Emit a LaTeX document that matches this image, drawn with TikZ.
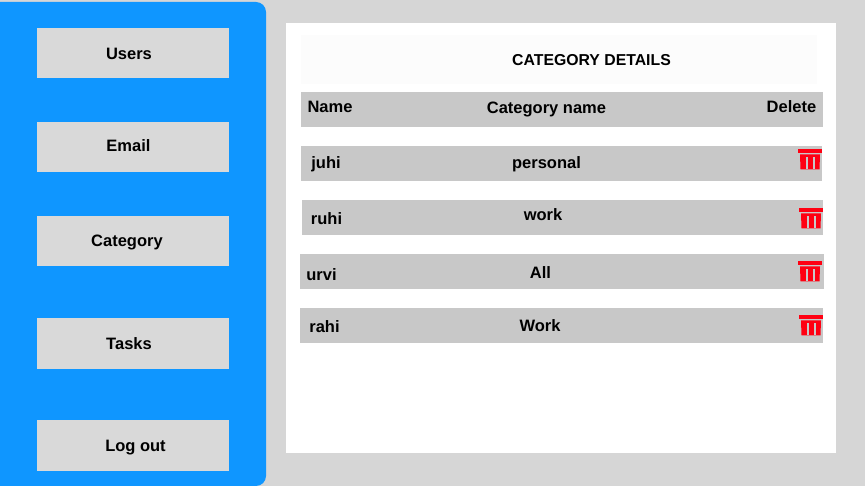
\documentclass[tikz,border=0pt]{standalone}
\usepackage{fontspec}
\setmainfont{Liberation Sans}
\definecolor{pagegray}{HTML}{D6D6D6}
\definecolor{sideblue}{HTML}{0F96FF}
\definecolor{btngray}{HTML}{D9D9D9}
\definecolor{rowgray}{HTML}{C8C8C8}
\definecolor{titlewhite}{HTML}{FCFCFC}
\definecolor{trashred}{HTML}{FF0012}
\tikzset{
	x=1pt, y=-1pt,
	txt/.style = {font=\bfseries\fontsize{16.5}{18}\selectfont, text=black, inner sep=0pt, anchor=base},
	btn/.style = {fill=btngray},
	rowbox/.style = {fill=rowgray},
	trash/.pic = {
		\fill[trashred] (0,0) rectangle (24,3.6);
		\fill[trashred] (2,5) -- (22,5) -- (21.5,20) -- (2.5,20) -- cycle;
		\fill[rowgray] (8,7.5) rectangle (10,20.2);
		\fill[rowgray] (14.5,7.5) rectangle (16.5,20.2);
	}
}
\begin{document}
\begin{tikzpicture}
	\useasboundingbox (0,0) rectangle (865,486);
	\fill[pagegray] (0,0) rectangle (865,486);
	\fill[sideblue, rounded corners=10pt] (-20,2) rectangle (266,486);
	% menu
	\foreach \y/\lx/\ly/\lbl in {28/129/59.5/Users, 122/128.5/151.5/Email, 216/127/247/Category, 318/129/349/Tasks, 420/135.5/451/Log out}
	{
		\fill[btn] (37,\y + 0.3) rectangle (229,\y + 50.5);
		\node[txt] (menu\y) at (\lx,\ly) {\lbl};
	}
	% panel
	\fill[white] (286,23) rectangle (836,453);
	\fill[titlewhite] (301,35) rectangle (817,84);
	\node[txt, font=\bfseries\fontsize{15.8}{18}\selectfont] (title) at (591.5,65.7) {CATEGORY DETAILS};
	% table
	\fill[rowbox] (301,92) rectangle (823,127.5);
	\fill[rowbox] (301,146) rectangle (822,181.5);
	\fill[rowbox] (302,200) rectangle (823,235.5);
	\fill[rowbox] (300,254) rectangle (824,289.5);
	\fill[rowbox] (300,308) rectangle (823,343.5);
	\node[txt] (hname) at (330,112.2) {Name};
	\node[txt] (hcat) at (546.5,113.7) {Category name};
	\node[txt] (hdel) at (791.5,112.2) {Delete};
	\node[txt] (juhi) at (326,168.7) {juhi};
	\node[txt] (personal) at (546.5,169) {personal};
	\node[txt] (ruhi) at (326.5,224.4) {ruhi};
	\node[txt] (work) at (543,221) {work};
	\node[txt] (urvi) at (321.5,280.7) {urvi};
	\node[txt] (all) at (540.5,278.7) {All};
	\node[txt] (rahi) at (324.5,332.7) {rahi};
	\node[txt] (Work) at (540,331.4) {Work};
	\pic at (798,149.3) {trash};
	\pic at (799,208.3) {trash};
	\pic at (798,261.3) {trash};
	\pic at (799,315.3) {trash};
\end{tikzpicture}
\end{document}
